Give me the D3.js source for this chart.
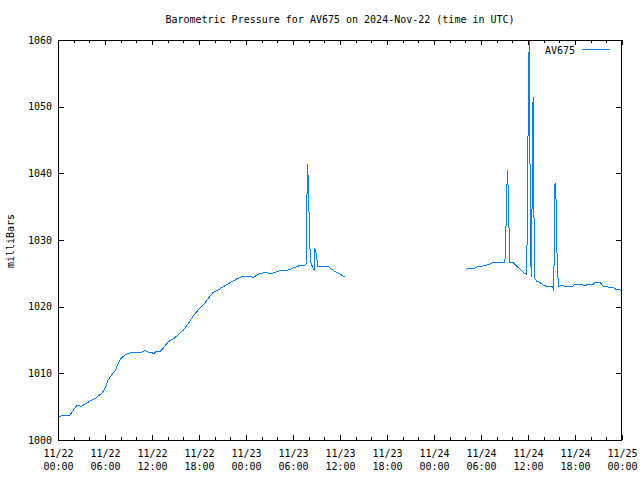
<!DOCTYPE html>
<html>
<head>
<meta charset="utf-8">
<script src="https://cdn.jsdelivr.net/npm/d3@7"></script>
<style>
  body { margin: 0; background: #fff; }
  svg { display: block; }
  text { font-family: "DejaVu Sans Mono", "Liberation Mono", monospace; font-size: 10px; fill: #000; }
</style>
</head>
<body>
<div id="chart"></div>
<script>
// hours after 2024-11-22 00:00 UTC, first stretch of readings
const hoursA = [0, 0.55, 1.5, 2.4, 3.0, 3.45, 4.1, 4.7, 5.15, 5.6, 6.0, 6.4, 6.85, 7.3, 7.7,
  8.05, 8.55, 9.0, 9.6, 10.25, 10.7, 11.1, 11.5, 11.95, 12.2, 12.6, 13.0, 13.45, 14.1, 14.7,
  15.35, 16.0, 16.65, 17.25, 17.9, 18.55, 19.2, 19.8, 20.45, 21.1, 21.95, 22.8, 23.65, 24.5, 24.9,
  25.55, 26.4, 27.3, 28.35, 29.2, 30.05, 30.7, 31.55, 31.7, 31.75, 31.85, 31.95, 32.05, 32.15, 32.3,
  32.5, 32.7, 32.8, 32.95, 33.0, 33.15, 34.4, 34.95, 35.6, 36.0, 36.4, 36.65];
const mbarA = [1003.4, 1003.7, 1003.7, 1005.2, 1005.05, 1005.4, 1005.85, 1006.2, 1006.6, 1007.0,
  1007.75, 1009.0, 1009.75, 1010.4, 1011.5, 1012.25, 1012.75, 1013.0, 1013.2, 1013.15,
  1013.2, 1013.4, 1013.2, 1013.15, 1012.95, 1013.35, 1013.25, 1013.8, 1014.75, 1015.15,
  1015.75, 1016.5, 1017.5, 1018.6, 1019.5, 1020.25, 1021.25, 1022.15, 1022.5, 1023.0,
  1023.6, 1024.15, 1024.6, 1024.6, 1024.35, 1024.85, 1025.1, 1025.0, 1025.4, 1025.4,
  1025.8, 1026.1, 1026.25, 1026.4, 1034.0, 1041.4, 1038.9, 1034.0, 1029.0, 1026.5,
  1026.0, 1025.4, 1028.75, 1028.0, 1027.75, 1026.1, 1026.1, 1025.6, 1025.1, 1024.9,
  1024.6, 1024.5];

// second stretch after the gap
const hoursB = [52.1, 52.4, 53.2, 53.65, 54.3, 55.15, 55.55, 56.85, 57.05, 57.15, 57.3, 57.35, 57.5,
  57.6, 57.65, 58.1, 58.55, 59.0, 59.4, 59.85, 59.9, 60.05, 60.15, 60.25, 60.35, 60.4, 60.55, 60.6,
  60.65, 60.75, 60.8, 61.1, 61.55, 61.95, 62.4, 63.15, 63.3, 63.35, 63.45, 63.6, 63.65, 63.75, 63.9,
  64.3, 64.75, 65.6, 66.0, 66.85, 67.25, 67.7, 68.35, 68.55, 69.2, 69.6, 70.05, 70.45, 70.85, 71.25,
  71.7, 71.9, 72.0];
const mbarB = [1025.5, 1025.8, 1025.8, 1026.0, 1026.1, 1026.4, 1026.65, 1026.65, 1026.65, 1030.1,
  1037.0, 1040.5, 1037.0, 1030.1, 1026.65, 1026.6, 1026.1, 1025.6, 1025.15, 1024.8,
  1033.5, 1051.25, 1060, 1042.25, 1029.25, 1024.5, 1038.0, 1047.25, 1051.5, 1038.0,
  1024.25, 1023.85, 1023.6, 1023.25, 1023.0, 1023.0, 1022.3, 1031.0, 1038.5, 1035.75,
  1030.75, 1025.75, 1023.0, 1023.25, 1023.0, 1023.0, 1023.35, 1023.35, 1023.15, 1023.35,
  1023.35, 1023.6, 1023.6, 1023.1, 1023.0, 1022.9, 1022.9, 1022.6, 1022.5, 1022.4, 1022.3];

const seriesName = "AV675";
const yTicks = [1000, 1010, 1020, 1030, 1040, 1050, 1060];
const titleText = "Barometric Pressure for AV675 on 2024-Nov-22 (time in UTC)";
const yLabel = "milliBars";

const W = 640, H = 480;
const margin = { top: 40, right: 18, bottom: 40, left: 58 };
const t0 = Date.UTC(2024, 10, 22);
const toDate = h => new Date(t0 + h * 3600e3);

const svg = d3.select("#chart").append("svg")
  .attr("width", W).attr("height", H);

const x = d3.scaleUtc()
  .domain([toDate(0), toDate(72)])
  .range([margin.left, W - margin.right]);

const y = d3.scaleLinear()
  .domain([1000, 1060])
  .range([H - margin.bottom, margin.top]);

svg.append("text")
  .attr("x", 340).attr("y", 23)
  .attr("text-anchor", "middle")
  .text(titleText);

svg.append("text")
  .attr("transform", "translate(14,241) rotate(-90)")
  .attr("text-anchor", "middle")
  .text(yLabel);

// clip so the spike over 1060 is cut at the frame
svg.append("clipPath").attr("id", "plot-clip")
  .append("rect")
  .attr("x", margin.left).attr("y", margin.top)
  .attr("width", W - margin.left - margin.right)
  .attr("height", H - margin.top - margin.bottom);

const line = d3.line()
  .x(d => x(d[0]))
  .y(d => y(d[1]));

const segs = [
  hoursA.map((h, i) => [toDate(h), mbarA[i]]),
  hoursB.map((h, i) => [toDate(h), mbarB[i]])
];

svg.append("g").attr("clip-path", "url(#plot-clip)")
  .selectAll("path")
  .data(segs)
  .enter().append("path")
  .attr("d", line)
  .attr("fill", "none")
  .attr("stroke", "#0080ff")
  .attr("stroke-width", 1)
  .attr("shape-rendering", "crispEdges"); // gnuplot png is not antialiased

// ticks, gnuplot style: inward, mirrored on all sides
const hide = g => g.select(".domain").remove();

svg.append("g")
  .attr("transform", `translate(0,${H - margin.bottom})`)
  .call(d3.axisBottom(x).ticks(d3.utcHour.every(2)).tickSize(-3).tickFormat(""))
  .call(hide);
svg.append("g")
  .attr("transform", `translate(0,${margin.top})`)
  .call(d3.axisTop(x).ticks(d3.utcHour.every(2)).tickSize(-3).tickFormat(""))
  .call(hide);
svg.append("g")
  .attr("transform", `translate(0,${margin.top})`)
  .call(d3.axisTop(x).ticks(d3.utcHour.every(6)).tickSize(-5).tickFormat(""))
  .call(hide);

const xAxis = svg.append("g")
  .attr("transform", `translate(0,${H - margin.bottom})`)
  .call(d3.axisBottom(x).ticks(d3.utcHour.every(6)).tickSize(-5).tickPadding(0))
  .call(hide);
xAxis.selectAll(".tick text").each(function (d) {
  const t = d3.select(this).text(null).attr("y", 0).attr("dy", null);
  t.append("tspan").attr("x", 0).attr("y", 17).text(d3.utcFormat("%m/%d")(d));
  t.append("tspan").attr("x", 0).attr("y", 30).text(d3.utcFormat("%H:%M")(d));
});

svg.append("g")
  .attr("transform", `translate(${margin.left},0)`)
  .call(d3.axisLeft(y).tickValues(yTicks).tickSize(-6).tickPadding(6).tickFormat(d3.format("d")))
  .call(hide);
svg.append("g")
  .attr("transform", `translate(${W - margin.right},0)`)
  .call(d3.axisRight(y).tickValues(yTicks).tickSize(-6).tickFormat(""))
  .call(hide);

svg.selectAll(".tick line").attr("stroke", "#000").attr("shape-rendering", "crispEdges");
svg.selectAll(".tick text").attr("font-family", null).attr("font-size", null);

// frame
svg.append("rect")
  .attr("x", margin.left + 0.5).attr("y", margin.top + 0.5)
  .attr("width", W - margin.left - margin.right - 1)
  .attr("height", H - margin.top - margin.bottom)
  .attr("fill", "none").attr("stroke", "#000")
  .attr("shape-rendering", "crispEdges");

// legend
svg.append("text")
  .attr("x", 575).attr("y", 54)
  .attr("text-anchor", "end")
  .text(seriesName);
svg.append("line")
  .attr("x1", 582).attr("x2", 610)
  .attr("y1", 49.5).attr("y2", 49.5)
  .attr("stroke", "#0080ff")
  .attr("shape-rendering", "crispEdges");
</script>
</body>
</html>
